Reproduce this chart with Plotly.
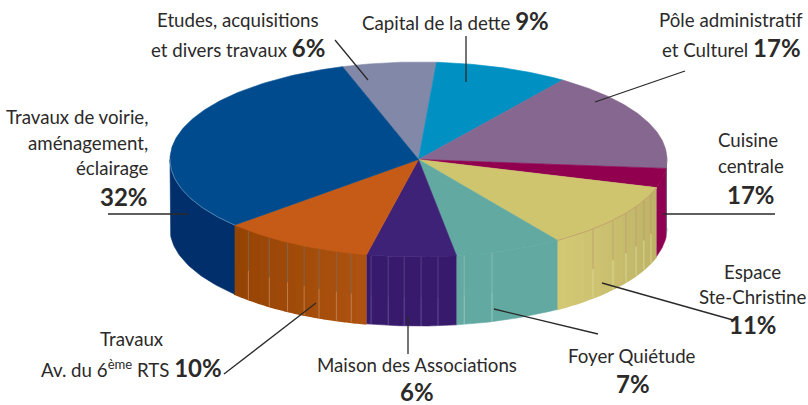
import numpy as np
import plotly.graph_objects as go

# ---- data (share of the disc, in %) ----
names = ["Etudes", "Capital", "Pole", "Cuisine", "Espace", "Foyer", "Maison", "Travaux Av", "Voirie"]
shares = [6.1, 8.7, 16.6, 3.2, 10.9, 7.0, 5.8, 9.9, 31.8]
top_colors = ["#8288a8", "#0090c2", "#856790", "#91004f", "#cfc56f", "#62a9a1", "#3e2277", "#c55b16", "#004b8d"]
side_start = ["#8288a8", "#0090c2", "#765a82", "#8f0050", "#bcb165", "#62a9a2", "#371a6c", "#ae5310", "#002f6b"]
side_end = ["#8288a8", "#0090c2", "#765a82", "#8f0050", "#d3c975", "#62a9a2", "#371a6c", "#944304", "#002f6b"]

B = '<b style="font-size:24px">%s</b>'
label_lines = [
    "Etudes, acquisitions",
    "et divers travaux " + B % "6%",
    "Capital de la dette " + B % "9%",
    "Pôle administratif",
    "et Culturel " + B % "17%",
    "Cuisine", "centrale", B % "17%",
    "Espace", "Ste-Christine", B % "11%",
    "Foyer Quiétude", B % "7%",
    "Maison des Associations", B % "6%",
    "Travaux",
    'Av. du 6<sup style="font-size:55%">ème</sup> RTS ' + B % "10%",
    "Travaux de voirie,", "aménagement,", "éclairage", B % "32%",
]

# ---- layout of the picture, kept apart from the data ----
W, H = 808, 405
CX, CY, RX, RY, DEPTH = 418.5, 159.5, 248.5, 97.5, 69.0
START = -17.8
TEXT = "#2b2a29"
FONT = "Lato"
FS = 18.7

label_pos = [
    (238, 20, "center"), (238, 47, "center"), (455, 20, "center"), (731, 20, "center"), (731, 47, "center"),
    (748, 140, "center"), (751, 166, "center"), (751, 194, "center"),
    (752, 272, "center"), (752, 297, "center"), (753, 324, "center"),
    (632, 356, "center"), (633, 383, "center"), (417, 365, "center"), (417, 391, "center"),
    (131.5, 339, "center"), (131.5, 367, "center"),
    (150, 117, "right"), (150, 143, "right"), (150, 168, "right"), (150, 196, "right"),
]
leaders = [
    ((335, 40), (368, 80)), ((466, 36), (466, 82)), ((685, 71), (595, 102)), ((775, 214), (663, 214)),
    ((733, 320), (602, 283)), ((598, 334), (494, 309)), ((408, 354), (408, 316)), ((224, 374), (316, 303)),
    ((108, 214), (188, 214)),
]
# facet seams on the side wall: angle (clockwise from top), upper colour, lower colour
seam_angles = [110.7, 114.9, 118.9, 123.4, 128.5, 135.4, 162.8, 169.4, 175.5, 179.4, 183.3, 187, 191,
               195.7, 199.3, 203.6, 207.4, 211.8, 216.9, 223.2]
seam_up = ["#bf9a70"] * 6 + ["#8fbdb6"] * 2 + ["#5d4a8c"] * 5 + ["#7d6a58"] * 7
seam_lo = ["#e0da9a"] * 6 + ["#a5cdc7"] * 2 + ["#6a5a9c"] * 5 + ["#c88a5c"] * 7


def px(deg):
    return CX + RX * np.sin(np.radians(deg))


def py(deg):
    return CY - RY * np.cos(np.radians(deg))


def mix(c1, c2, f):
    a = [int(c1[i:i + 2], 16) for i in (1, 3, 5)]
    b = [int(c2[i:i + 2], 16) for i in (1, 3, 5)]
    return "#%02x%02x%02x" % tuple(round(p + (q - p) * f) for p, q in zip(a, b))


def poly(x, y, color, lw=0.6):
    return go.Scatter(x=x, y=y, mode="lines", fill="toself", fillcolor=color,
                      line=dict(color=color, width=lw), hoverinfo="skip", showlegend=False)


fig = go.Figure()
edges = START + np.concatenate([[0], np.cumsum(shares)]) * 3.6

# side wall
for i in range(len(shares)):
    a0, a1 = max(edges[i], 90.0), min(edges[i + 1], 270.0)
    if a1 <= a0:
        continue
    n = 1 if side_start[i] == side_end[i] else max(1, int((a1 - a0) / 2.5))
    for k in range(n):
        t = np.linspace(a0 + (a1 - a0) * k / n, a0 + (a1 - a0) * (k + 1) / n, 40 if n == 1 else 5)
        c = mix(side_start[i], side_end[i], (k + 0.5) / n)
        fig.add_trace(poly(np.r_[px(t), px(t[::-1])], np.r_[py(t), py(t[::-1]) + DEPTH], c, 1.6 if n > 1 else 0.6))

# seams
for a, cu, cl in zip(seam_angles, seam_up, seam_lo):
    x0, y0 = px(a), py(a)
    for c, f0, f1 in ((cu, 0.0, 0.58), (cl, 0.58, 1.0)):
        fig.add_trace(go.Scatter(x=[x0, x0], y=[y0 + DEPTH * f0, y0 + DEPTH * f1], mode="lines",
                                 line=dict(color=c, width=0.8), hoverinfo="skip", showlegend=False))

# top face
for i in range(len(shares)):
    t = np.linspace(edges[i], edges[i + 1], 120)
    fig.add_trace(poly(np.r_[CX, px(t), CX], np.r_[CY, py(t), CY], top_colors[i]))

# rim highlights
rim = [(227.6, 270, "#5f8fb8"), (106.6, 146, "#bf9a70")]
for a0, a1, c in rim:
    t = np.linspace(a0, a1, 60)
    fig.add_trace(go.Scatter(x=px(t), y=py(t), mode="lines", line=dict(color=c, width=0.8),
                             hoverinfo="skip", showlegend=False))

# leader lines
for (x0, y0), (x1, y1) in leaders:
    fig.add_trace(go.Scatter(x=[x0, x1], y=[y0, y1], mode="lines", line=dict(color=TEXT, width=1.3),
                             hoverinfo="skip", showlegend=False))

for txt, (x, y, anc) in zip(label_lines, label_pos):
    fig.add_annotation(x=x, y=y, text=txt, showarrow=False, xanchor=anc, yanchor="middle",
                       font=dict(family=FONT, size=FS, color=TEXT))

fig.update_layout(width=W, height=H, autosize=False, margin=dict(l=0, r=0, t=0, b=0),
                  paper_bgcolor="white", plot_bgcolor="white", showlegend=False,
                  xaxis=dict(range=[0, W], visible=False, fixedrange=True),
                  yaxis=dict(range=[H, 0], visible=False, fixedrange=True))
fig.write_html("out.html", config={"displayModeBar": False},
               post_script="document.body.style.margin='0';document.body.style.overflow='hidden';")
